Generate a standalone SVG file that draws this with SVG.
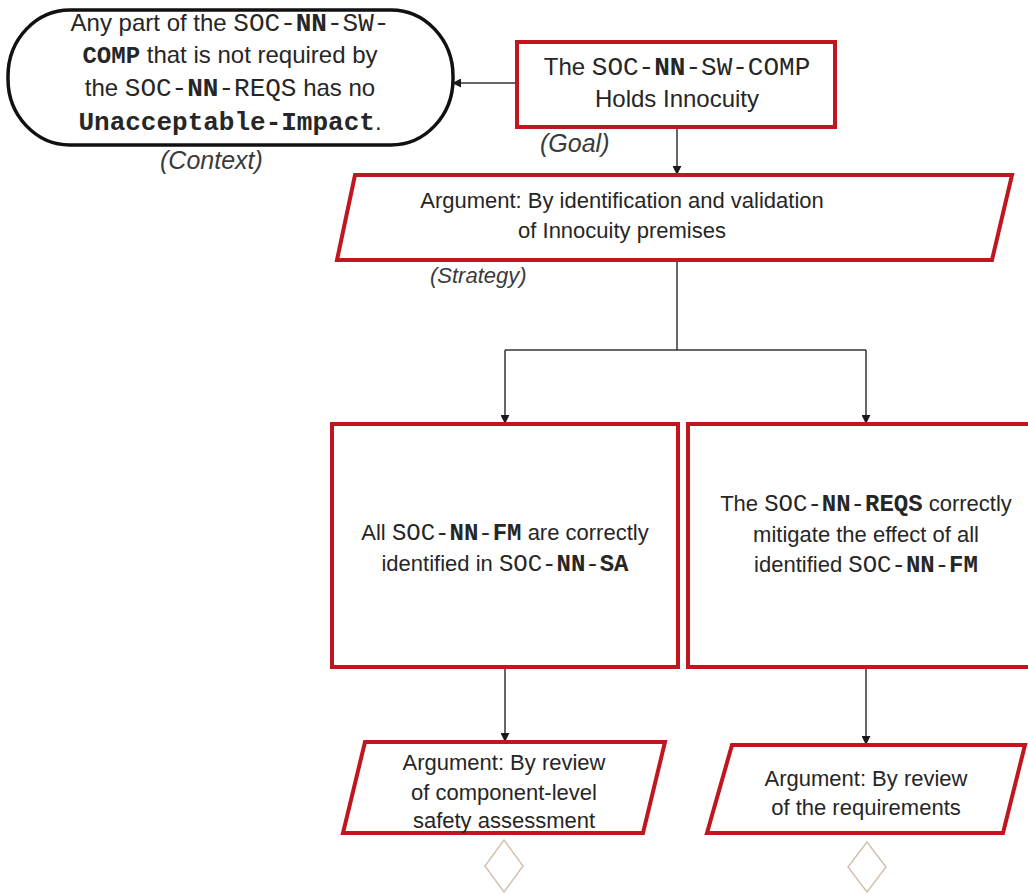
<svg xmlns="http://www.w3.org/2000/svg" width="1028" height="894" viewBox="0 0 1028 894">
  <defs>
    <marker id="arrow" viewBox="0 0 10 10" refX="9" refY="5" markerWidth="9" markerHeight="9" markerUnits="userSpaceOnUse" orient="auto">
      <path d="M0,0 L10,5 L0,10 Z" fill="#1a1a1a"/>
    </marker>
    <style>
      .goal, .strat { fill: #ffffff; stroke: #c0161f; stroke-width: 4; }
      .ctx { fill: #ffffff; stroke: #111111; stroke-width: 3.5; }
      .diamond { fill: #ffffff; stroke: #d2c2ae; stroke-width: 1.5; }
      .edge { fill: none; stroke: #333333; stroke-width: 1.5; marker-end: url(#arrow); }
      .line { fill: none; stroke: #333333; stroke-width: 1.5; }
      text { font-family: "Liberation Sans", Arial, sans-serif; fill: #262626; text-anchor: middle; }
      .t24 { font-size: 24px; }
      .t22 { font-size: 22px; }
      .m { font-family: "Liberation Mono", "Courier New", monospace; }
      .b { font-weight: bold; }
      .lbl { font-size: 22px; font-style: italic; fill: #3a3a3a; text-anchor: start; }
      .lbl-l { font-size: 25px; }
    </style>
  </defs>

  <rect width="1028" height="894" fill="#ffffff"/>

  <!-- connectors -->
  <g id="connectors">
    <line class="edge" x1="517" y1="83" x2="453" y2="83"/>
    <line class="edge" x1="677" y1="127" x2="677" y2="174"/>
    <polyline class="line" points="677,260 677,350"/>
    <polyline class="line" points="505,350 866,350"/>
    <polyline class="edge" points="505,350 505,423"/>
    <polyline class="edge" points="866,350 866,423"/>
    <line class="edge" x1="505" y1="667" x2="505" y2="741"/>
    <line class="edge" x1="866" y1="667" x2="866" y2="744"/>
  </g>

  <!-- context -->
  <g id="context">
    <rect class="ctx" x="8" y="10" width="445" height="135" rx="62" ry="66"/>
    <text class="t24" x="230" y="31">Any part of the <tspan class="m" font-size="26">SOC-<tspan class="b">NN</tspan>-SW-</tspan></text>
    <text class="t24" x="230" y="63"><tspan class="m b" font-size="24">COMP</tspan>  that is not required by</text>
    <text class="t24" x="230" y="96">the <tspan class="m" font-size="26">SOC-<tspan class="b">NN</tspan>-REQS</tspan>  has no</text>
    <text class="t24" x="230" y="130"><tspan class="m b" font-size="26">Unacceptable-Impact</tspan>.</text>
    <text class="lbl lbl-l" x="160" y="169">(Context)</text>
  </g>

  <!-- goal -->
  <g id="goal">
    <rect class="goal" x="517" y="42" width="318" height="85"/>
    <text class="t24" x="677" y="75">The <tspan class="m" font-size="26">SOC-<tspan class="b">NN</tspan>-SW-COMP</tspan></text>
    <text class="t24" x="677" y="107">Holds Innocuity</text>
    <text class="lbl lbl-l" x="540" y="152">(Goal)</text>
  </g>

  <!-- strategy -->
  <g id="strategy">
    <polygon class="strat" points="355,175 1012,175 992,260 337,260"/>
    <text class="t22" x="622" y="208">Argument: By identification and validation</text>
    <text class="t22" x="622" y="238">of Innocuity premises</text>
    <text class="lbl" x="430" y="283">(Strategy)</text>
  </g>

  <!-- sub-goal: failure modes identified -->
  <g id="goal-fm">
    <rect class="goal" x="332" y="424" width="346" height="243"/>
    <text class="t22" x="505" y="540">All <tspan class="m" font-size="24">SOC-<tspan class="b">NN</tspan>-<tspan class="b">FM</tspan></tspan> are correctly</text>
    <text class="t22" x="505" y="571">identified in <tspan class="m" font-size="24">SOC-<tspan class="b">NN</tspan>-<tspan class="b">SA</tspan></tspan></text>
  </g>

  <!-- sub-goal: requirements mitigate -->
  <g id="goal-reqs">
    <rect class="goal" x="688" y="424" width="360" height="243"/>
    <text class="t22" x="866" y="511">The <tspan class="m" font-size="24">SOC-<tspan class="b">NN</tspan>-<tspan class="b">REQS</tspan></tspan> correctly</text>
    <text class="t22" x="866" y="542">mitigate the effect of all</text>
    <text class="t22" x="866" y="572">identified <tspan class="m" font-size="24">SOC-<tspan class="b">NN</tspan>-<tspan class="b">FM</tspan></tspan></text>
  </g>

  <!-- strategy: safety assessment review -->
  <g id="strategy-sa">
    <polygon class="strat" points="365,742 665,742 643,833 343,833"/>
    <text class="t22" x="504" y="770">Argument: By review</text>
    <text class="t22" x="504" y="800">of component-level</text>
    <text class="t22" x="504" y="828">safety assessment</text>
  </g>

  <!-- strategy: requirements review -->
  <g id="strategy-reqs">
    <polygon class="strat" points="732,745 1025,745 1003,833 707,833"/>
    <text class="t22" x="866" y="786">Argument: By review</text>
    <text class="t22" x="866" y="815">of the requirements</text>
  </g>

  <!-- undeveloped markers -->
  <g id="undeveloped-sa">
    <polygon class="diamond" points="504,840 523,866 504,892 485,866"/>
  </g>
  <g id="undeveloped-reqs">
    <polygon class="diamond" points="867,842 886,867 867,892 848,867"/>
  </g>
</svg>
